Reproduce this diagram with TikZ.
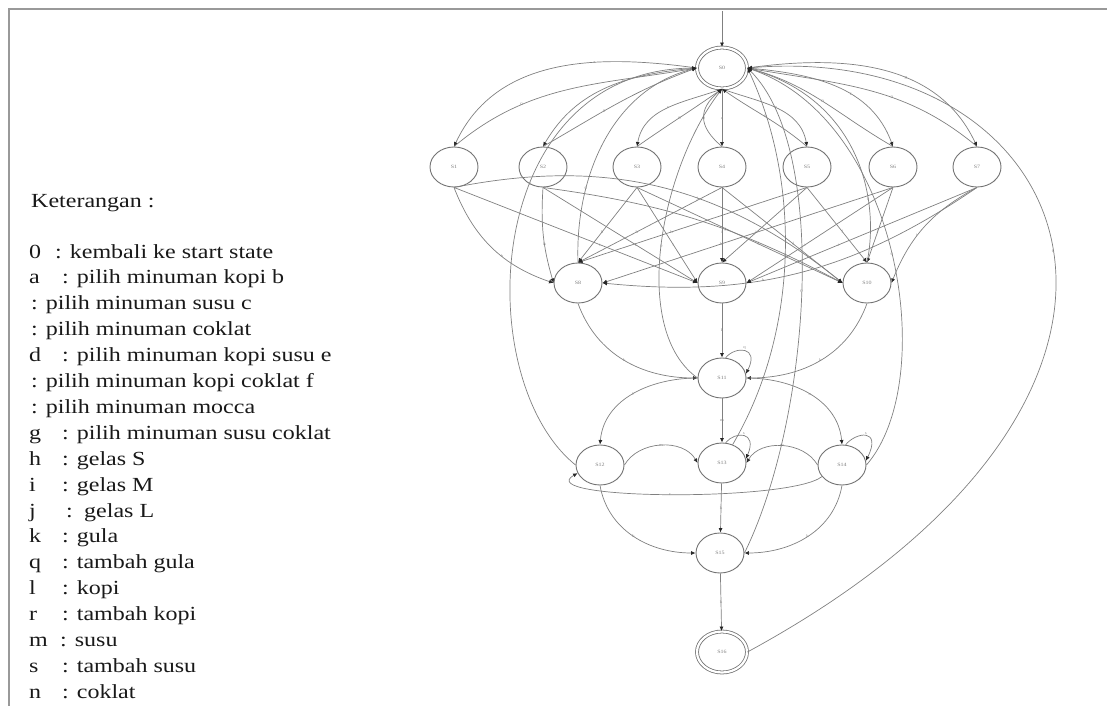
\documentclass[tikz,border=0pt]{standalone}
\usepackage{fontspec}
\setmainfont{Liberation Serif}[FakeStretch=1.2]
\usetikzlibrary{shapes.geometric,arrows.meta}

\tikzset{
  state/.style={ellipse, draw=black!55, line width=0.9pt, minimum width=48pt,
    minimum height=40pt, inner sep=0pt, font=\fontsize{5}{5}\selectfont, text=black!50},
  final/.style={state, double, double distance=2.2pt, line width=0.8pt,
    minimum width=50pt, minimum height=41pt},
  tran/.style={draw=black!50, line width=0.7pt, -{Latex[length=4.5pt,width=4pt,color=black!85]}},
  lbl/.style={font=\fontsize{4}{4}\selectfont, text=black!45, inner sep=1pt},
  ketline/.style={anchor=base west, inner sep=0pt, font=\fontsize{20}{20}\selectfont, text=black!90}
}

\begin{document}
\begin{tikzpicture}[x=1pt,y=-1pt]

    \useasboundingbox (0,0) rectangle (1116,706);

    % Frame
    \draw[black!40, line width=2pt] (9,706) -- (9,9) -- (1107,9);

    % Legend
    \node[ketline] (ket) at (31,207) {Keterangan :};
    \foreach \k/\c/\t [count=\n] in {
        0/55/kembali ke start state,
        a/62/pilih minuman kopi b,
        /31/pilih minuman susu c,
        /31/pilih minuman coklat,
        d/62/pilih minuman kopi susu e,
        /31/pilih minuman kopi coklat f,
        /31/pilih minuman mocca,
        g/62/pilih minuman susu coklat,
        h/62/gelas S,
        i/62/gelas M,
        j/66/{\,gelas L},
        k/62/gula,
        q/62/tambah gula,
        l/62/kopi,
        r/62/tambah kopi,
        m/60/susu,
        s/62/tambah susu,
        n/62/coklat}
    {
        \node[ketline] (key\n) at (29,{258+25.9*(\n-1)}) {\k};
        \node[ketline] (txt\n) at (\c,{258+25.9*(\n-1)}) {: \t};
    }

    % States
    \node[final] (S0) at (722,68) {S0};
    \node[state] (S1) at (454,167) {S1};
    \node[state] (S2) at (543,167) {S2};
    \node[state] (S3) at (637,167) {S3};
    \node[state] (S4) at (722,167) {S4};
    \node[state] (S5) at (807,167) {S5};
    \node[state] (S6) at (893,167) {S6};
    \node[state] (S7) at (977,167) {S7};
    \node[state] (S8) at (578,283) {S8};
    \node[state] (S9) at (722,283) {S9};
    \node[state] (S10) at (867,283) {S10};
    \node[state] (S11) at (722,378) {S11};
    \node[state] (S12) at (600,465) {S12};
    \node[state] (S13) at (722,463) {S13};
    \node[state] (S14) at (842,465) {S14};
    \node[state] (S15) at (720,553) {S15};
    \node[final] (S16) at (722,652) {S16};

    % Start arrow
    \coordinate (start) at (722,11);
    \draw[tran] (start) -- (S0);

    % Pilih minuman
    \draw[tran] (S0.west) to[out=172,in=65] node[lbl,pos=.35] {a} (S1.north);
    \draw[tran] (S1.north) to[out=40,in=190] node[lbl,pos=.3] {0} (S0.west);
    \draw[tran] (S0.west) to[out=185,in=60] node[lbl,pos=.4] {b} (S2.north);
    \draw[tran] (S2.north) to[out=30,in=200] node[lbl,pos=.4] {0} (S0.west);
    \draw[tran] (S0.south) to[out=200,in=80] node[lbl] {c} (S3.north);
    \draw[tran] (S3.north) to[out=35,in=215] node[lbl] {0} (S0.south);
    \draw[tran] (S0.south) -- node[lbl] {d} (S4.north);
    \draw[tran] (S4.north) to[out=140,in=220,looseness=1.4] node[lbl] {0} (S0.south);
    \draw[tran] (S0.south) to[out=-20,in=100] node[lbl] {e} (S5.north);
    \draw[tran] (S5.north) to[out=140,in=-35] node[lbl] {0} (S0.south);
    \draw[tran] (S0.east) to[out=-5,in=110] node[lbl,pos=.6] {f} (S6.north);
    \draw[tran] (S6.north) to[out=150,in=-15] node[lbl] {0} (S0.east);
    \draw[tran] (S0.east) to[out=8,in=115] node[lbl,pos=.6] {g} (S7.north);
    \draw[tran] (S7.north) to[out=140,in=-10] node[lbl,pos=.4] {0} (S0.east);

    % Gelas S, M, L
    \foreach \i/\a/\b/\c/\bb in {1/west/west/west/25, 2/west/west/west/10,
        3/north/west/west/0, 4/north/north/west/0, 5/north/north/north/0,
        6/east/east/north/0, 7/east/east/east/-20}
    {
        \draw[tran] (S\i.south) to[bend right=\bb] node[lbl,pos=.6] {h} (S8.\a);
        \draw[tran] (S\i.south) to node[lbl,pos=.6] {i} (S9.\b);
        \draw[tran] (S\i.south) to[bend left=\bb] node[lbl,pos=.6] {j} (S10.\c);
    }

    % Gula
    \draw[tran] (S8.south) to[out=-70,in=180] node[lbl] {k} (S11.west);
    \draw[tran] (S9) -- node[lbl] {k} (S11);
    \draw[tran] (S10.south) to[out=-110,in=0] node[lbl] {k} (S11.east);
    \draw[tran] (S11.80) .. controls (735,346) and (760,346) .. node[lbl,above] {q} (S11.10);

    % Kopi, susu, coklat
    \draw[tran] (S11.west) to[out=180,in=85] node[lbl] {l} (S12.north);
    \draw[tran] (S11) -- node[lbl] {m} (S13);
    \draw[tran] (S11.east) to[out=0,in=95] node[lbl] {n} (S14.north);
    \draw[tran] (S13.80) .. controls (735,431) and (758,431) .. node[lbl,above] {s} (S13.10);
    \draw[tran] (S14.80) .. controls (856,432) and (882,428) .. node[lbl,above] {s} (S14.10);
    \draw[tran] (S12.east) to[out=60,in=120] node[lbl] {m} (S13.west);
    \draw[tran] (S14.west) to[out=120,in=60] node[lbl] {m} (S13.east);
    \draw[tran] (S14.210) .. controls (790,502) and (530,500) .. node[lbl] {r} (S12.200);

    % Selesai
    \draw[tran] (S12.south) to[out=-80,in=180] node[lbl] {k} (S15.west);
    \draw[tran] (S13) -- node[lbl] {k} (S15);
    \draw[tran] (S14.south) to[out=-100,in=0] node[lbl] {k} (S15.east);
    \draw[tran] (S15) -- node[lbl] {k} (S16);

    % Kembali ke start state
    \draw[tran] (S8.north) .. controls (575,180) and (610,90) .. node[lbl,pos=.3] {0} (S0.west);
    \draw[tran] (S10.north) .. controls (880,200) and (860,100) .. node[lbl,pos=.3] {0} (S0.east);
    \draw[tran] (S11.west) .. controls (630,330) and (660,170) .. node[lbl] {0} (S0.south);
    \draw[tran] (S12.west) .. controls (470,380) and (480,70) .. node[lbl,pos=.6] {0} (S0.west);
    \draw[tran] (S13.60) .. controls (800,330) and (800,180) .. node[lbl] {0} (S0.east);
    \draw[tran] (S15.east) .. controls (810,420) and (830,150) .. node[lbl] {0} (S0.east);
    \draw[tran] (S14.east) .. controls (940,380) and (900,120) .. node[lbl] {0} (S0.east);
    \draw[tran] (S16.east) .. controls (1230,390) and (1080,40) .. node[lbl] {0} (S0.east);

\end{tikzpicture}
\end{document}
